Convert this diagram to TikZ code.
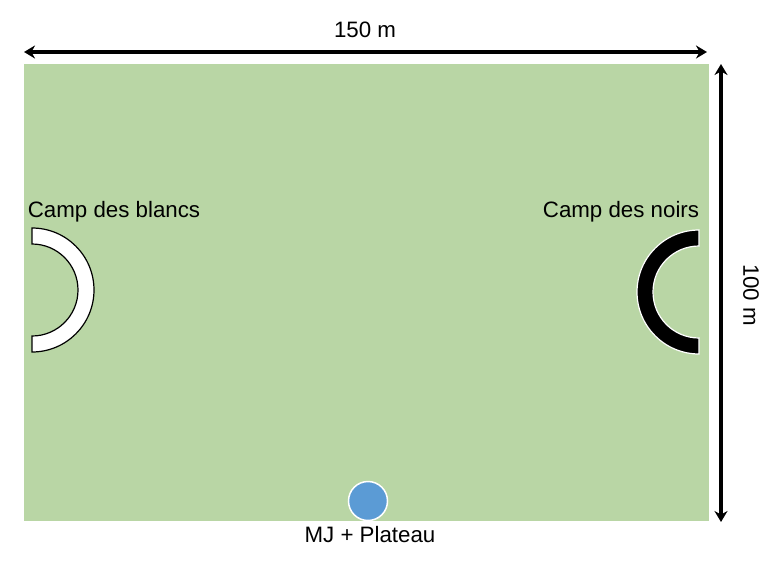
\documentclass[tikz,border=0pt]{standalone}
\usepackage{fontspec}
\setmainfont{Liberation Sans}
\usetikzlibrary{arrows.meta}
\definecolor{fieldgreen}{HTML}{B9D6A5}
\definecolor{mjblue}{HTML}{5B9BD5}

\begin{document}
\begin{tikzpicture}
        [x=1pt, y=-1pt,
            DimArrow/.style=
            {line width=3.5pt, {Stealth[length=11pt,width=13pt]}-{Stealth[length=11pt,width=13pt]}},
            CampLabel/.style=
            {font=\fontsize{22.3}{25}\selectfont, inner sep=0pt},
            MJNode/.style=
            {circle, draw=white, fill=mjblue,
            line width=1.5pt, minimum size=39pt, inner sep=0pt}
        ]
            \useasboundingbox (0,0) rectangle (782,566);
            \fill[fieldgreen] (24,64) rectangle (709,521);

            % dimensions
            \coordinate (wl) at (24,52);
            \coordinate (wr) at (707,52);
            \coordinate (ht) at (721,64);
            \coordinate (hb) at (721,522);
            \draw[DimArrow] (wl) -- (wr);
            \draw[DimArrow] (ht) -- (hb);
            \node[CampLabel] (w) at (365,30){150 m};
            \node[CampLabel, rotate=-90] (h) at (751,295){100 m};

            % camps
            \draw[fill=white, line width=1.2pt] (32,228) arc[start angle=-90, end angle=90, radius=62]
                -- (32,336) arc[start angle=90, end angle=-90, radius=46] -- cycle;
            \draw[fill=black, draw=white, line width=1.2pt] (699,230) arc[start angle=-90, end angle=-270, radius=62]
                -- (699,338) arc[start angle=90, end angle=270, radius=46] -- cycle;
            \node[CampLabel] (blancs) at (114,212){Camp des blancs};
            \node[CampLabel] (noirs) at (621,212){Camp des noirs};

            \node[MJNode] (mj) at (368,501){};
            \node[CampLabel] (mjl) at (370,535){MJ + Plateau};
    \end{tikzpicture}
\end{document}
